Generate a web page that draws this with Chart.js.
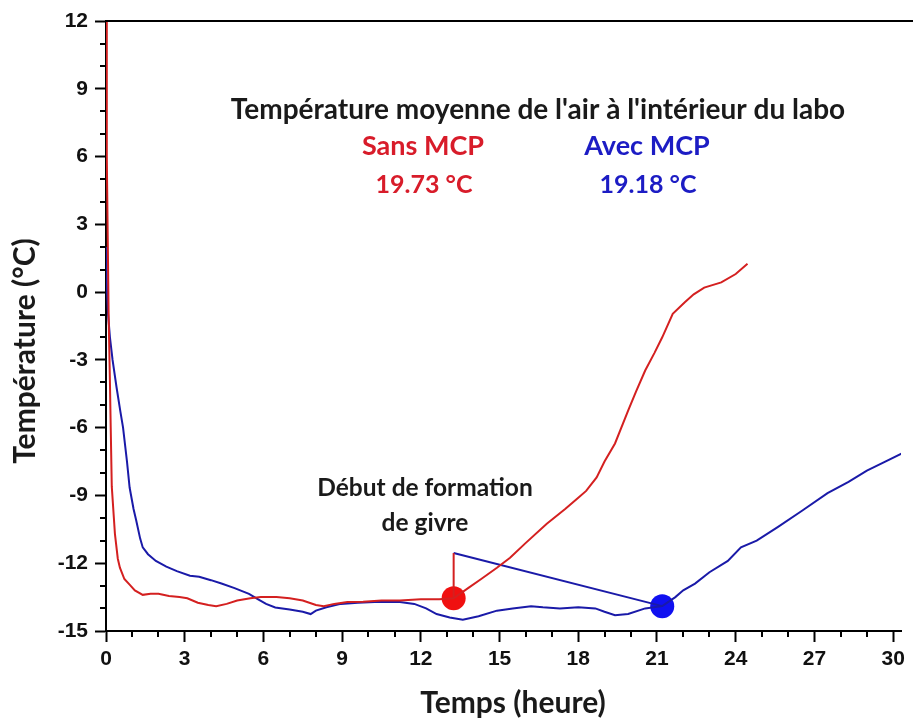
<!DOCTYPE html>
<html>
<head>
<meta charset="utf-8">
<script src="https://cdn.jsdelivr.net/npm/chart.js@4"></script>
<style>
  html, body { margin: 0; padding: 0; background: #fff; }
  #wrap { width: 913px; height: 720px; }
</style>
</head>
<body>
<div id="wrap"><canvas id="chart" width="913" height="720"></canvas></div>
<script>
// Sans MCP (red)
const redX = [0, 0.03, 0.07, 0.1, 0.15, 0.18, 0.22, 0.3, 0.34, 0.45, 0.53, 0.7, 0.9, 1.1, 1.4, 1.7, 2.0, 2.4, 2.8, 3.1,
  3.5, 3.9, 4.2, 4.6, 5.0, 5.5, 5.9, 6.5, 7.0, 7.5, 8.0, 8.3, 8.7, 9.2, 9.8, 10.5, 11.2, 12.0, 12.7, 13.25,
  13.8, 14.3, 14.9, 15.4, 16.0, 16.8, 17.5, 18.0, 18.3, 18.7, 19.0, 19.4, 19.9, 20.2, 20.55, 20.9, 21.2, 21.6, 22.06, 22.4,
  22.8, 23.45, 24.0, 24.45];
const redY = [12, 6, 2, -1, -4, -6, -8.6, -10, -10.7, -11.8, -12.2, -12.7, -12.95, -13.2, -13.4, -13.35, -13.35, -13.45, -13.5, -13.55,
  -13.75, -13.85, -13.9, -13.8, -13.65, -13.55, -13.5, -13.5, -13.55, -13.65, -13.85, -13.9, -13.8, -13.72, -13.7, -13.65, -13.65, -13.6, -13.6, -13.55,
  -13.1, -12.7, -12.2, -11.76, -11.1, -10.25, -9.6, -9.1, -8.8, -8.2, -7.5, -6.7, -5.25, -4.4, -3.47, -2.7, -2.0, -0.96, -0.45, -0.1,
  0.2, 0.43, 0.8, 1.26];

// Avec MCP (blue)
const blueX = [0, 0.04, 0.08, 0.15, 0.25, 0.4, 0.55, 0.65, 0.8, 0.9, 1.05, 1.15, 1.3, 1.4, 1.6, 1.9, 2.3, 2.7, 3.2, 3.55,
  4.0, 4.4, 4.9, 5.45, 5.8, 6.1, 6.45, 7.0, 7.5, 7.8, 8.0, 8.4, 8.95, 9.6, 10.45, 11.2, 11.75, 12.2, 12.6, 13.1,
  13.6, 14.2, 14.9, 15.5, 16.2, 16.65, 17.3, 18.0, 18.65, 19.0, 19.4, 19.9, 20.55, 21.2, 21.7, 22.0, 22.45, 23.0, 23.7, 24.2,
  24.8, 25.6, 26.5, 27.5, 28.3, 29.0, 29.7, 30.4];
const blueY = [2, 0, -1, -2, -3, -4.2, -5.3, -6.0, -7.5, -8.65, -9.6, -10.1, -10.9, -11.3, -11.6, -11.9, -12.15, -12.35, -12.55, -12.6,
  -12.75, -12.9, -13.1, -13.36, -13.6, -13.8, -13.96, -14.05, -14.15, -14.25, -14.1, -13.95, -13.8, -13.75, -13.7, -13.72, -13.8, -14.0, -14.25, -14.4,
  -14.5, -14.35, -14.1, -14.0, -13.9, -13.95, -14.0, -13.95, -14.0, -14.15, -14.3, -14.25, -14.0, -13.9, -13.5, -13.2, -12.9, -12.4, -11.9, -11.3,
  -11.0, -10.4, -9.7, -8.9, -8.4, -7.9, -7.5, -7.1];

// début de formation de givre
const frostRed = { x: 13.25, y: -13.55 };
const frostBlue = { x: 21.2, y: -13.9 };
const frostLabelY = -11.55;

const xTicks = [0, 3, 6, 9, 12, 15, 18, 21, 24, 27, 30];
const yTicks = [-15, -12, -9, -6, -3, 0, 3, 6, 9, 12];

const redLine = '#d42020';
const blueLine = '#1a1aa8';
const redDot = '#f01010';
const blueDot = '#1010f0';

function toPoints(xs, ys) {
    return xs.map((x, i) => ({ x: x, y: ys[i] }));
}

// petites graduations + bord haut + textes
const decorPlugin = {
    id: 'decor',
    afterDraw(chart) {
        const ctx = chart.ctx;
        const area = chart.chartArea;
        const sx = chart.scales.x;
        const sy = chart.scales.y;
        ctx.save();
        ctx.strokeStyle = '#000';
        ctx.lineWidth = 2;
        ctx.beginPath();
        ctx.moveTo(area.left - 1, area.top);
        ctx.lineTo(chart.width, area.top);
        ctx.stroke();

        ctx.beginPath();
        for (let v = 1; v <= 30; v++) {
            if (v % 3 === 0) continue;
            const px = Math.round(sx.getPixelForValue(v));
            ctx.moveTo(px, area.bottom);
            ctx.lineTo(px, area.bottom + 6);
        }
        for (let v = -14; v < 12; v++) {
            if (v % 3 === 0) continue;
            const py = Math.round(sy.getPixelForValue(v));
            ctx.moveTo(area.left, py);
            ctx.lineTo(area.left - 6, py);
        }
        ctx.stroke();

        ctx.textAlign = 'center';
        ctx.textBaseline = 'middle';
        ctx.fillStyle = '#1a1a1a';
        ctx.font = 'bold 28px Lato';
        ctx.fillText("Température moyenne de l'air à l'intérieur du labo", 538, 110);
        ctx.font = 'bold 24.5px Lato';
        ctx.fillText('Début de formation', 425, 488);
        ctx.fillText('de givre', 425, 523);

        ctx.fillStyle = '#d81c2a';
        ctx.font = 'bold 27px Lato';
        ctx.fillText('Sans MCP', 423, 146);
        ctx.fillStyle = '#1c1cc4';
        ctx.fillText('Avec MCP', 647, 146);
        ctx.font = 'bold 25px Lato';
        ctx.fillStyle = '#d81c2a';
        ctx.fillText('19.73 °C', 424, 185);
        ctx.fillStyle = '#1c1cc4';
        ctx.fillText('19.18 °C', 648, 185);

        // titres des axes
        ctx.fillStyle = '#1a1a1a';
        ctx.font = 'bold 30px Lato';
        ctx.fillText('Temps (heure)', 513, 703);
        ctx.translate(25, 351);
        ctx.rotate(-Math.PI / 2);
        ctx.fillText('Température (°C)', 0, 0);
        ctx.restore();
    }
};

const chart = new Chart(document.getElementById('chart'), {
    type: 'scatter',
    data: {
        datasets: [
            { data: toPoints(redX, redY), borderColor: redLine, showLine: true, borderWidth: 2, pointRadius: 0, tension: 0 },
            { data: toPoints(blueX, blueY), borderColor: blueLine, showLine: true, borderWidth: 2, pointRadius: 0, tension: 0 },
            { data: [frostRed, { x: frostRed.x, y: frostLabelY }], borderColor: redLine, showLine: true, borderWidth: 2, pointRadius: 0 },
            { data: [{ x: frostRed.x, y: frostLabelY }, frostBlue], borderColor: blueLine, showLine: true, borderWidth: 2, pointRadius: 0 },
            { data: [frostRed], pointRadius: 12, pointBackgroundColor: redDot, pointBorderColor: redDot, pointBorderWidth: 0 },
            { data: [frostBlue], pointRadius: 12, pointBackgroundColor: blueDot, pointBorderColor: blueDot, pointBorderWidth: 0 }
        ]
    },
    options: {
        responsive: false,
        animation: false,
        layout: { padding: { top: 21, right: 5, left: 0, bottom: 0 } },
        plugins: { legend: { display: false }, tooltip: { enabled: false } },
        scales: {
            x: {
                type: 'linear',
                min: 0,
                max: 30.3,
                afterFit: s => { s.height = 89; },
                afterBuildTicks: s => { s.ticks = xTicks.map(v => ({ value: v })); },
                border: { color: '#000', width: 2 },
                grid: { drawOnChartArea: false, drawTicks: true, tickLength: 11, tickColor: '#000', tickWidth: 2 },
                ticks: { color: '#111', padding: 5, font: { family: 'Liberation Sans', weight: 'bold', size: 21 } }
            },
            y: {
                min: -15,
                max: 12,
                afterFit: s => { s.width = 106; },
                afterBuildTicks: s => { s.ticks = yTicks.map(v => ({ value: v })); },
                border: { color: '#000', width: 2 },
                grid: { drawOnChartArea: false, drawTicks: true, tickLength: 11, tickColor: '#000', tickWidth: 2 },
                ticks: { color: '#111', padding: 7, font: { family: 'Liberation Sans', weight: 'bold', size: 21 } }
            }
        }
    },
    plugins: [decorPlugin]
});
</script>
</body>
</html>
